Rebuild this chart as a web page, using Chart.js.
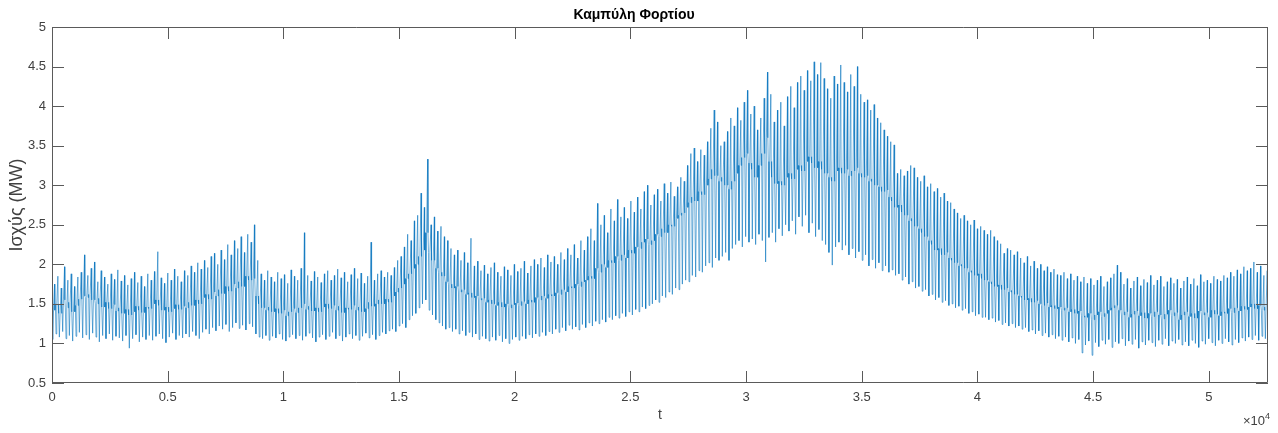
<!DOCTYPE html>
<html>
<head>
<meta charset="utf-8">
<title>Καμπύλη Φορτίου</title>
<script src="https://cdn.jsdelivr.net/npm/chart.js@4.4.0/dist/chart.umd.min.js"></script>
<style>
  html, body { margin: 0; padding: 0; background: #ffffff; }
  #load-curve { display: block; }
</style>
</head>
<body>
<canvas id="load-curve" width="1278" height="433"></canvas>
<script>
// 10-minute samples, one year of load
const samplesPerDay = 144;
const totalSamples = 52560;

// daily maximum (MW)
const dailyPeak = [
  1.75, 1.85, 1.70, 1.97, 1.80, 1.88, 1.72, 1.84, 1.90, 2.12,
  1.86, 1.95, 2.03, 1.78, 1.92, 1.84, 1.75, 1.88, 1.81, 1.93,
  1.79, 1.86, 1.74, 1.82, 1.90, 1.77, 1.85, 1.72, 1.88, 1.80,
  1.91, 2.16, 1.83, 1.76, 1.89, 1.80, 1.94, 1.85, 1.78, 1.92,
  1.86, 1.98, 1.90, 2.02, 1.94, 2.05, 1.96, 2.10, 2.14, 2.00,
  2.18, 2.06, 2.25, 2.12, 2.30, 2.20, 2.35, 2.15, 2.38, 2.28,
  2.50, 2.05, 1.88, 1.80, 1.92, 1.84, 1.78, 1.90, 1.82, 1.87,
  1.76, 1.93, 1.85, 1.80, 1.95, 2.40, 1.86, 1.79, 1.91, 1.84,
  1.77, 1.88, 1.92, 1.80, 1.86, 1.94, 1.83, 1.90, 1.78, 1.87,
  1.95, 1.82, 1.89, 1.76, 1.85, 2.28, 1.80, 1.88, 1.92, 1.84,
  1.90, 1.86, 1.96, 2.05, 2.10, 2.22, 2.38, 2.30, 2.55, 2.62,
  2.90, 2.72, 3.33, 2.50, 2.60, 2.42, 2.48, 2.35, 2.30, 2.20,
  2.12, 2.18, 2.05, 2.15, 2.02, 2.33, 1.98, 2.04, 1.92, 1.99,
  1.88, 1.96, 2.02, 1.90, 1.85, 1.97, 1.93, 1.86, 2.00, 1.91,
  1.95, 2.04, 1.89, 1.98, 2.06, 2.00, 2.08, 1.96, 2.12, 2.03,
  2.10, 2.00, 2.15, 2.06, 2.20, 2.12, 2.25, 2.08, 2.30, 2.18,
  2.35, 2.45, 2.30, 2.77, 2.50, 2.62, 2.40, 2.70, 2.55, 2.82,
  2.60, 2.72, 2.58, 2.80, 2.66, 2.85, 2.70, 2.92, 3.00, 2.75,
  2.88, 2.95, 2.80, 3.02, 2.90, 3.04, 2.86, 2.98, 3.10, 3.05,
  3.25, 3.40, 3.47, 3.30, 3.45, 3.38, 3.55, 3.72, 3.95, 3.80,
  3.50, 3.55, 3.68, 3.85, 3.75, 3.98, 3.82, 4.05, 4.20, 3.90,
  4.00, 3.70, 3.85, 4.10, 4.43, 4.15, 3.80, 3.95, 4.05, 3.75,
  4.12, 4.25, 3.98, 4.30, 4.38, 4.20, 4.45, 4.32, 4.56, 4.40,
  4.55, 4.35, 4.22, 4.10, 4.38, 4.28, 4.52, 4.30, 4.18, 4.40,
  4.25, 4.50, 4.15, 4.05, 4.08, 3.95, 4.02, 3.85, 3.79, 3.70,
  3.62, 3.55, 3.51, 3.15, 3.20, 3.12, 3.18, 3.25, 3.22, 3.10,
  3.05, 3.12, 2.98, 3.02, 2.92, 2.96, 2.85, 2.90, 2.80, 2.78,
  2.70, 2.65, 2.58, 2.62, 2.55, 2.50, 2.56, 2.45, 2.48, 2.43,
  2.38, 2.43, 2.35, 2.30, 2.26, 2.14, 2.20, 2.18, 2.12, 2.16,
  2.08, 2.02, 2.10, 1.98, 2.04, 1.95, 2.00, 1.92, 1.97, 1.90,
  1.94, 1.87, 1.86, 1.90, 1.82, 1.88, 1.80, 1.85, 1.78, 1.84,
  1.76, 1.82, 1.74, 1.80, 1.85, 1.72, 1.78, 1.83, 1.88, 1.99,
  1.90, 1.75, 1.82, 1.70, 1.79, 1.84, 1.73, 1.81, 1.77, 1.86,
  1.74, 1.80, 1.85, 1.72, 1.78, 1.83, 1.76, 1.81, 1.70, 1.79,
  1.84, 1.75, 1.82, 1.73, 1.87, 1.78, 1.80, 1.76, 1.85, 1.81,
  1.79, 1.86, 1.83, 1.90, 1.85, 1.93, 1.88, 1.97, 1.92, 1.95,
  2.03, 1.90, 1.98, 1.86, 1.92
];

// daily minimum (MW)
const dailyLow = [
  1.05, 1.12, 1.08, 1.15, 1.06, 1.10, 1.03, 1.09, 1.14, 1.07,
  1.11, 1.05, 1.13, 1.08, 1.02, 1.10, 1.06, 1.12, 1.04, 1.09,
  1.07, 1.03, 1.10, 0.94, 1.06, 1.11, 1.02, 1.08, 1.05, 1.10,
  1.04, 1.09, 1.12, 1.06, 1.01, 1.08, 1.13, 1.05, 1.10, 1.07,
  1.12, 1.08, 1.15, 1.10, 1.06, 1.14, 1.18, 1.12, 1.20, 1.16,
  1.22, 1.18, 1.24, 1.15, 1.20, 1.26, 1.19, 1.23, 1.17, 1.25,
  1.21, 1.12, 1.08, 1.06, 1.10, 1.04, 1.09, 1.07, 1.12, 1.05,
  1.03, 1.08, 1.11, 1.06, 1.10, 1.04, 1.09, 1.13, 1.07, 1.02,
  1.08, 1.11, 1.05, 1.09, 1.14, 1.06, 1.10, 1.03, 1.08, 1.12,
  1.06, 1.10, 1.04, 1.09, 1.13, 1.07, 1.11, 1.05, 1.10, 1.14,
  1.12, 1.16, 1.18, 1.15, 1.22, 1.25, 1.20, 1.30, 1.35, 1.38,
  1.45, 1.50, 1.55, 1.42, 1.36, 1.30, 1.26, 1.22, 1.18, 1.20,
  1.15, 1.18, 1.12, 1.16, 1.10, 1.14, 1.08, 1.12, 1.05, 1.09,
  1.06, 1.03, 1.08, 1.04, 1.10, 1.02, 1.06, 1.00, 1.05, 1.08,
  1.04, 1.09, 1.06, 1.11, 1.07, 1.12, 1.09, 1.14, 1.10, 1.15,
  1.12, 1.18, 1.14, 1.20, 1.16, 1.23, 1.18, 1.21, 1.17, 1.24,
  1.20, 1.26, 1.22, 1.28, 1.25, 1.30, 1.27, 1.33, 1.30, 1.35,
  1.32, 1.38, 1.34, 1.40, 1.36, 1.43, 1.40, 1.46, 1.44, 1.48,
  1.50, 1.55, 1.52, 1.60, 1.58, 1.65, 1.62, 1.70, 1.68, 1.75,
  1.80, 1.78, 1.86, 1.84, 1.92, 1.90, 1.98, 2.02, 1.96, 2.08,
  2.05, 2.10, 2.15, 2.05, 2.20, 2.25, 2.30, 2.22, 2.35, 2.28,
  2.32, 2.25, 2.38, 2.30, 2.03, 2.34, 2.40, 2.28, 2.45, 2.36,
  2.50, 2.42, 2.55, 2.38, 2.60, 2.48, 2.62, 2.40, 2.52, 2.35,
  2.44, 2.30, 2.25, 2.15, 1.99, 2.22, 2.28, 2.18, 2.24, 2.12,
  2.20, 2.08, 2.16, 2.05, 2.12, 1.98, 2.06, 1.95, 2.02, 1.92,
  1.98, 1.90, 1.93, 1.86, 1.88, 1.80, 1.84, 1.75, 1.78, 1.70,
  1.72, 1.66, 1.68, 1.60, 1.62, 1.55, 1.58, 1.52, 1.54, 1.48,
  1.50, 1.45, 1.47, 1.42, 1.44, 1.38, 1.40, 1.35, 1.37, 1.33,
  1.33, 1.30, 1.32, 1.27, 1.29, 1.24, 1.26, 1.22, 1.25, 1.20,
  1.22, 1.18, 1.20, 1.15, 1.17, 1.12, 1.16, 1.10, 1.13, 1.08,
  1.11, 1.06, 1.09, 1.04, 1.08, 1.02, 1.07, 1.00, 1.05, 0.88,
  0.98, 1.03, 0.85, 1.01, 0.96, 1.04, 0.99, 1.05, 0.95, 1.02,
  1.00, 1.06, 0.97, 1.03, 0.99, 1.05, 0.94, 1.02, 0.98, 1.04,
  1.01, 0.96, 1.04, 0.99, 1.06, 0.97, 1.03, 1.00, 1.05, 0.98,
  1.02, 0.97, 1.04, 1.00, 0.95, 1.03, 0.99, 1.06, 1.01, 0.97,
  1.04, 1.00, 1.06, 1.02, 0.98, 1.05, 1.01, 1.07, 1.03, 1.08,
  1.05, 1.10, 1.04, 1.09, 1.06
];

// level the load sits at between the morning dip and the evening peak (MW)
const dailyBase = [
  1.42, 1.50, 1.38, 1.55, 1.45, 1.52, 1.40, 1.48, 1.56, 1.60,
  1.58, 1.62, 1.55, 1.50, 1.57, 1.46, 1.52, 1.44, 1.49, 1.41,
  1.45, 1.38, 1.43, 1.36, 1.40, 1.47, 1.42, 1.39, 1.46, 1.44,
  1.50, 1.55, 1.48, 1.42, 1.46, 1.40, 1.44, 1.49, 1.43, 1.47,
  1.45, 1.52, 1.48, 1.55, 1.50, 1.58, 1.62, 1.56, 1.65, 1.60,
  1.68, 1.63, 1.72, 1.66, 1.75, 1.70, 1.78, 1.72, 1.85, 1.80,
  1.82, 1.60, 1.50, 1.45, 1.42, 1.46, 1.40, 1.44, 1.38, 1.42,
  1.35, 1.40, 1.44, 1.39, 1.45, 1.50, 1.43, 1.47, 1.41, 1.45,
  1.40, 1.46, 1.50, 1.44, 1.48, 1.42, 1.47, 1.39, 1.45, 1.43,
  1.48, 1.42, 1.46, 1.40, 1.44, 1.52, 1.47, 1.50, 1.55, 1.50,
  1.56, 1.52, 1.60, 1.65, 1.70, 1.75, 1.82, 1.88, 1.95, 2.00,
  2.10, 2.18, 2.40, 2.15, 2.05, 1.95, 1.90, 1.85, 1.78, 1.75,
  1.70, 1.72, 1.65, 1.68, 1.62, 1.64, 1.58, 1.60, 1.55, 1.57,
  1.52, 1.55, 1.50, 1.48, 1.52, 1.46, 1.50, 1.45, 1.49, 1.51,
  1.48, 1.53, 1.50, 1.55, 1.52, 1.58, 1.55, 1.60, 1.57, 1.62,
  1.60, 1.64, 1.62, 1.68, 1.65, 1.72, 1.70, 1.75, 1.72, 1.78,
  1.80, 1.85, 1.82, 1.95, 1.90, 2.00, 1.96, 2.05, 2.02, 2.10,
  2.05, 2.12, 2.08, 2.18, 2.14, 2.22, 2.20, 2.28, 2.32, 2.25,
  2.30, 2.38, 2.35, 2.45, 2.40, 2.50, 2.48, 2.58, 2.62, 2.65,
  2.72, 2.78, 2.85, 2.80, 2.92, 2.88, 3.00, 3.08, 3.20, 3.12,
  3.05, 3.10, 3.00, 2.95, 3.05, 3.15, 3.25, 3.35, 3.40, 3.28,
  3.20, 3.10, 3.25, 3.40, 3.60, 3.30, 3.10, 3.02, 3.05, 3.00,
  3.10, 3.15, 3.08, 3.20, 3.25, 3.18, 3.30, 3.36, 3.28, 3.22,
  3.30, 3.20, 3.15, 3.10, 3.05, 3.18, 3.22, 3.15, 3.20, 3.12,
  3.18, 3.22, 3.15, 3.10, 3.12, 3.05, 3.08, 3.00, 2.98, 2.92,
  2.94, 2.85, 2.80, 2.72, 2.75, 2.66, 2.62, 2.55, 2.58, 2.48,
  2.45, 2.40, 2.35, 2.30, 2.25, 2.18, 2.20, 2.12, 2.15, 2.08,
  2.05, 2.02, 1.98, 2.00, 1.95, 1.90, 1.92, 1.86, 1.88, 1.82,
  1.80, 1.78, 1.75, 1.72, 1.74, 1.68, 1.70, 1.65, 1.67, 1.62,
  1.60, 1.58, 1.55, 1.57, 1.52, 1.54, 1.50, 1.48, 1.51, 1.46,
  1.48, 1.44, 1.46, 1.42, 1.45, 1.40, 1.43, 1.38, 1.41, 1.35,
  1.33, 1.38, 1.30, 1.36, 1.40, 1.34, 1.38, 1.42, 1.45, 1.48,
  1.42, 1.36, 1.40, 1.33, 1.37, 1.41, 1.35, 1.39, 1.32, 1.38,
  1.34, 1.40, 1.36, 1.31, 1.37, 1.42, 1.35, 1.39, 1.30, 1.36,
  1.40, 1.34, 1.38, 1.32, 1.41, 1.36, 1.39, 1.33, 1.42, 1.37,
  1.35, 1.40, 1.38, 1.44, 1.39, 1.45, 1.41, 1.47, 1.43, 1.46,
  1.50, 1.44, 1.48, 1.42, 1.46
];

const xTicks = [0, 5000, 10000, 15000, 20000, 25000, 30000, 35000, 40000, 45000, 50000];
const yTicks = [0.5, 1, 1.5, 2, 2.5, 3, 3.5, 4, 4.5, 5];

// Build the load series: each day dips in the early hours and peaks in the evening
function buildSeries() {
  const points = [];
  for (let d = 0; d < dailyPeak.length; d++) {
    const t0 = d * samplesPerDay;
    points.push({ x: t0, y: dailyBase[d] });
    points.push({ x: t0 + 30, y: dailyLow[d] });
    points.push({ x: t0 + 62, y: dailyBase[d] });
    points.push({ x: t0 + 110, y: dailyPeak[d] });
    points.push({ x: t0 + 124, y: dailyBase[d] });
  }
  return points;
}

const axisColor = '#5a5a5a';
const tickLen = 12;

// MATLAB style box with inward tick marks and the x10^4 exponent
const boxAxes = {
  id: 'boxAxes',
  afterDraw(chart) {
    const { ctx, chartArea: a, scales } = chart;
    ctx.save();
    ctx.strokeStyle = axisColor;
    ctx.lineWidth = 1;
    ctx.beginPath();
    ctx.rect(a.left + 0.5, a.top + 0.5, a.right - a.left - 1, a.bottom - a.top - 1);
    xTicks.forEach(v => {
      const px = Math.round(scales.x.getPixelForValue(v)) + 0.5;
      ctx.moveTo(px, a.bottom);
      ctx.lineTo(px, a.bottom - tickLen);
      ctx.moveTo(px, a.top);
      ctx.lineTo(px, a.top + tickLen);
    });
    yTicks.forEach(v => {
      const py = Math.round(scales.y.getPixelForValue(v)) + 0.5;
      ctx.moveTo(a.left, py);
      ctx.lineTo(a.left + tickLen, py);
      ctx.moveTo(a.right, py);
      ctx.lineTo(a.right - tickLen, py);
    });
    ctx.stroke();

    ctx.fillStyle = '#404040';
    ctx.textBaseline = 'alphabetic';
    ctx.font = '13px "Liberation Sans", Arial, sans-serif';
    ctx.textAlign = 'right';
    ctx.fillText('×10', 1265, 425);
    ctx.font = '9px "Liberation Sans", Arial, sans-serif';
    ctx.textAlign = 'left';
    ctx.fillText('4', 1265, 419);
    ctx.restore();
  }
};

const fontFamily = '"Liberation Sans", Arial, sans-serif';

const ctx = document.getElementById('load-curve').getContext('2d');
new Chart(ctx, {
  type: 'line',
  data: {
    datasets: [{
      data: buildSeries(),
      borderColor: 'rgba(0, 114, 189, 0.72)',
      borderWidth: 0.8,
      pointRadius: 0,
      tension: 0,
      fill: false
    }]
  },
  options: {
    responsive: false,
    animation: false,
    devicePixelRatio: 1,
    parsing: false,
    normalized: true,
    layout: { padding: { left: 0, right: 10, top: 0, bottom: 0 } },
    plugins: {
      legend: { display: false },
      tooltip: { enabled: false },
      title: {
        display: true,
        text: 'Καμπύλη Φορτίου',
        color: '#000000',
        font: { size: 14, weight: 'bold', family: fontFamily },
        padding: { top: 6.5, bottom: 3.7 }
      }
    },
    scales: {
      x: {
        type: 'linear',
        min: 0,
        max: totalSamples,
        grid: { display: false, drawTicks: false },
        border: { display: false },
        afterBuildTicks: scale => { scale.ticks = xTicks.map(v => ({ value: v })); },
        afterFit: scale => { scale.height = 50; },
        ticks: {
          color: '#404040',
          padding: 7,
          maxRotation: 0,
          font: { size: 13, family: fontFamily },
          callback: value => String(value / 10000)
        },
        title: {
          display: true,
          text: 't',
          color: '#404040',
          font: { size: 14, family: fontFamily },
          padding: { top: 0, bottom: 9.6 }
        }
      },
      y: {
        type: 'linear',
        min: 0.5,
        max: 5,
        grid: { display: false, drawTicks: false },
        border: { display: false },
        afterBuildTicks: scale => { scale.ticks = yTicks.map(v => ({ value: v })); },
        afterFit: scale => { scale.width = 52; },
        ticks: {
          color: '#404040',
          padding: 6,
          font: { size: 13, family: fontFamily },
          callback: value => String(value)
        },
        title: {
          display: true,
          text: 'Ισχύς (MW)',
          color: '#404040',
          font: { size: 18, family: fontFamily },
          padding: { top: 6.2, bottom: 0 }
        }
      }
    }
  },
  plugins: [boxAxes]
});
</script>
</body>
</html>
